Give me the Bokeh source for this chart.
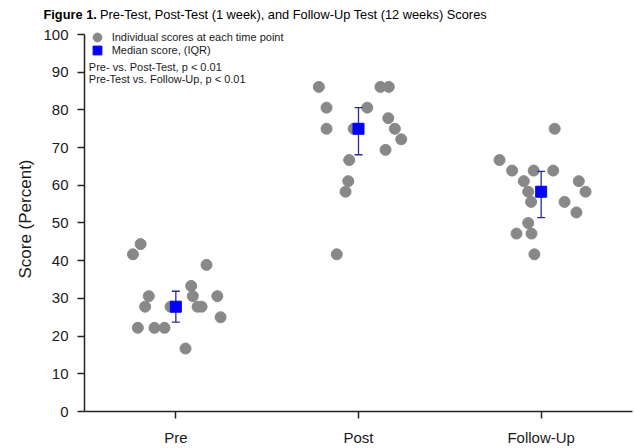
from bokeh.plotting import figure
from bokeh.layouts import column
from bokeh.models import ColumnDataSource, FixedTicker, Legend, LegendItem, Label, Range1d
from bokeh.embed import file_html
from bokeh.resources import INLINE

categories = ["Pre", "Post", "Follow-Up"]

pre_scores = [44.4, 41.7, 38.9, 33.3, 30.6, 30.6, 30.6, 27.8, 27.8, 27.8, 27.8, 25.0, 22.2, 22.2, 22.2, 16.7]
pre_jitter = [-0.193, -0.235, 0.168, 0.084, -0.148, 0.093, 0.227, -0.168, -0.029, 0.119, 0.141, 0.245, -0.208, -0.117, -0.062, 0.053]

post_scores = [86.1, 86.1, 86.1, 80.6, 80.6, 77.8, 75.0, 75.0, 75.0, 72.2, 69.4, 66.7, 61.1, 58.3, 41.7]
post_jitter = [-0.217, 0.120, 0.166, -0.175, 0.048, 0.163, -0.175, -0.026, 0.199, 0.234, 0.148, -0.051, -0.056, -0.071, -0.119]

follow_scores = [75.0, 66.7, 63.9, 63.9, 63.9, 61.1, 61.1, 58.3, 58.3, 55.6, 55.6, 52.8, 50.0, 47.2, 47.2, 41.7]
follow_jitter = [0.074, -0.228, -0.159, -0.041, 0.066, -0.095, 0.206, -0.071, 0.243, -0.055, 0.128, 0.193, -0.071, -0.135, -0.053, -0.037]

medians = [27.8, 75.0, 58.3]
q1 = [23.7, 68.1, 51.4]
q3 = [31.9, 80.6, 63.7]

title_bold = "Figure 1."
title_rest = "Pre-Test, Post-Test (1 week), and Follow-Up Test (12 weeks) Scores"
legend_labels = ["Individual scores at each time point", "Median score, (IQR)"]
stat_notes = ["Pre- vs. Post-Test, p < 0.01", "Pre-Test vs. Follow-Up, p < 0.01"]

FONT = "Liberation Sans"
TXT = "#1a1a1a"
GRAY = "#888888"
BLUE = "#0000ff"
NAVY = "#2a2aa0"

# ---------- title strip ----------
t = figure(width=634, height=26, output_backend="svg", toolbar_location=None,
           x_range=Range1d(0, 634), y_range=Range1d(0, 26),
           x_axis_type=None, y_axis_type=None, min_border=0)
t.frame_align = False
t.outline_line_color = None
t.grid.visible = False
t.add_layout(Label(x=43, y=12.5, text=title_bold, text_font=FONT, text_font_size="12.8px",
                   text_font_style="bold", text_color="#000000", text_baseline="middle"))
t.add_layout(Label(x=99.5, y=12.5, text=title_rest, text_font=FONT, text_font_size="12.8px",
                   text_color="#000000", text_baseline="middle"))

# ---------- main chart ----------
xs, ys = [], []
for i, (sc, jt) in enumerate([(pre_scores, pre_jitter), (post_scores, post_jitter), (follow_scores, follow_jitter)]):
    for s, j in zip(sc, jt):
        xs.append(i + j)
        ys.append(s)
pts = ColumnDataSource(dict(x=xs, y=ys))
med = ColumnDataSource(dict(x=list(range(len(categories))), m=medians, lo=q1, hi=q3))

p = figure(width=634, height=422, output_backend="svg", toolbar_location=None,
           x_range=Range1d(-0.5, 2.5), y_range=Range1d(0, 102.12),
           min_border_left=84, min_border_right=2, min_border_top=0, min_border_bottom=37)
p.frame_align = False
p.outline_line_color = None
p.grid.visible = False

dots = p.scatter("x", "y", source=pts, size=11, fill_color=GRAY, line_color=GRAY)
p.segment(x0="x", y0="lo", x1="x", y1="hi", source=med, line_color=NAVY, line_width=1.3)
p.scatter("x", "lo", source=med, marker="dash", size=8, line_color=NAVY, line_width=1.3)
p.scatter("x", "hi", source=med, marker="dash", size=8, line_color=NAVY, line_width=1.3)
meds = p.scatter("x", "m", source=med, marker="square", size=11, fill_color=BLUE, line_color=BLUE)

p.xaxis.ticker = FixedTicker(ticks=[0, 1, 2])
p.xaxis.major_label_overrides = {i: c for i, c in enumerate(categories)}
p.yaxis.ticker = FixedTicker(ticks=list(range(0, 101, 10)))
p.yaxis.bounds = (0, 100)
for ax in (p.xaxis[0], p.yaxis[0]):
    ax.minor_tick_line_color = None
    ax.major_tick_in = 0
    ax.major_tick_out = 7
    ax.major_tick_line_width = 1.5
    ax.axis_line_width = 1.5
    ax.axis_line_color = "#222222"
    ax.major_tick_line_color = "#222222"
    ax.major_label_text_font = FONT
    ax.major_label_text_font_size = "15px"
    ax.major_label_text_color = TXT
p.xaxis.major_label_standoff = 10
p.yaxis.major_label_standoff = 9
p.yaxis.axis_label = "Score (Percent)"
p.yaxis.axis_label_text_font = FONT
p.yaxis.axis_label_text_font_size = "17px"
p.yaxis.axis_label_text_font_style = "normal"
p.yaxis.axis_label_text_color = TXT
p.yaxis.axis_label_standoff = 5

legend_style = dict(glyph_width=22, glyph_height=22, padding=0, margin=0, label_standoff=4,
                    label_height=12, label_text_font=FONT, label_text_font_size="11px",
                    label_text_color=TXT, border_line_color=None, background_fill_alpha=0)
p.add_layout(Legend(items=[LegendItem(label=legend_labels[0], renderers=[dots])],
                    location=(1.7, 362.7), **legend_style))
p.add_layout(Legend(items=[LegendItem(label=legend_labels[1], renderers=[meds])],
                    location=(1.7, 349.7), **legend_style))

for note, yv in zip(stat_notes, [91.3, 88.2]):
    p.add_layout(Label(x=-0.4765, y=yv, text=note, text_font=FONT, text_font_size="11px",
                       text_color=TXT, text_baseline="middle", text_align="left"))

layout = column(t, p, spacing=0)
open("out.html", "w").write(file_html(layout, INLINE))
